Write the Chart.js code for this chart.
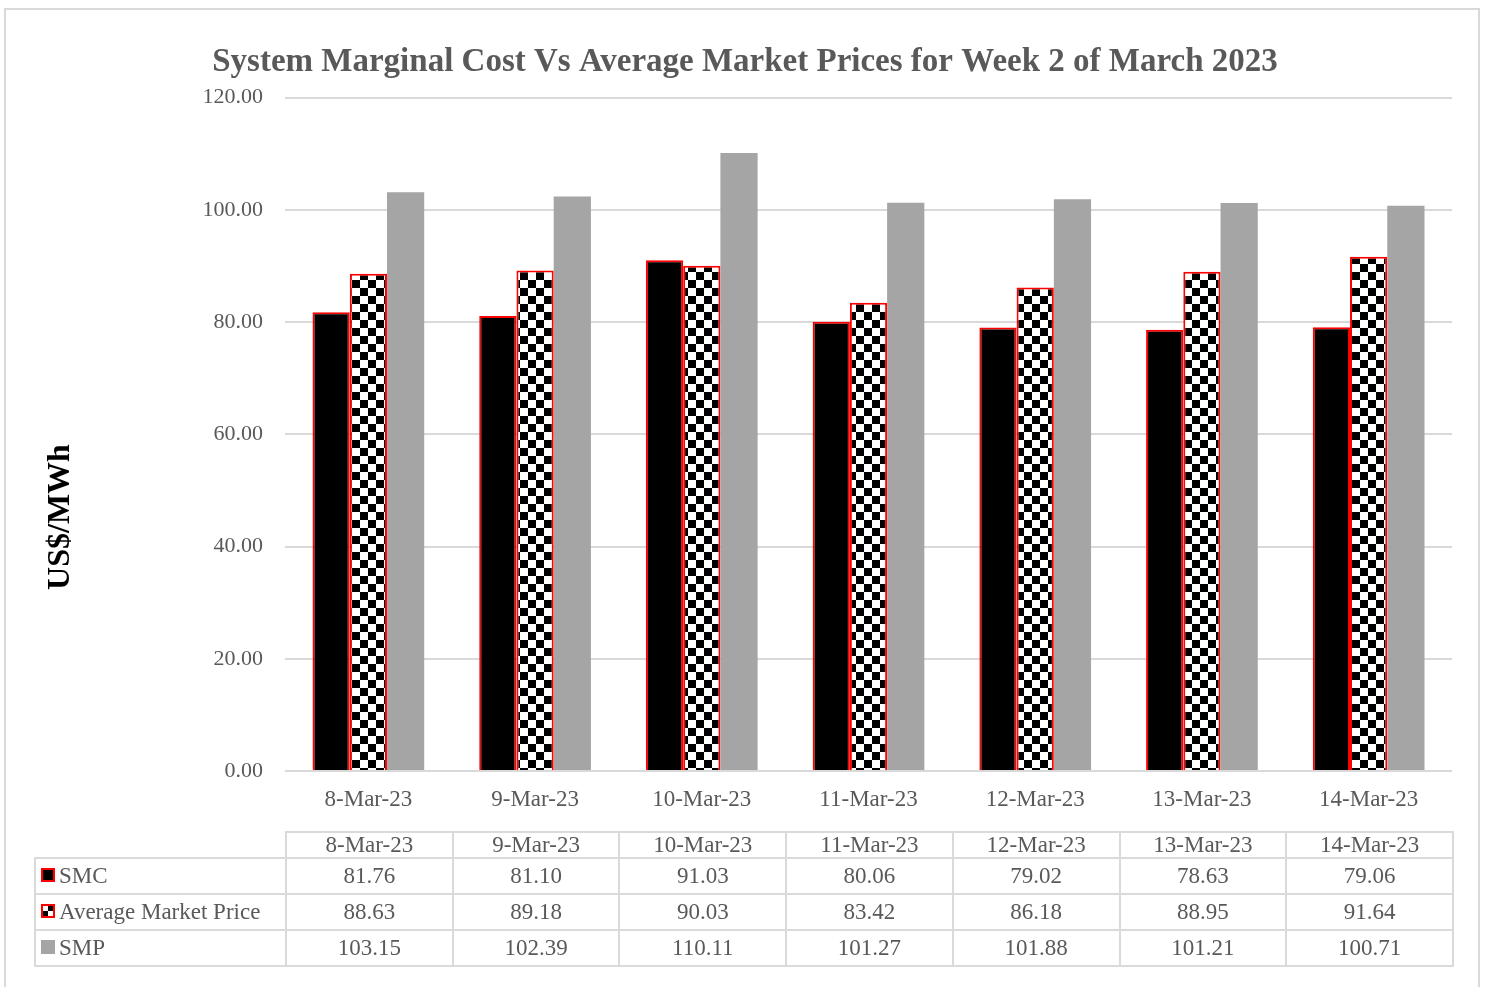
<!DOCTYPE html>
<html>
<head>
<meta charset="utf-8">
<script src="https://cdn.jsdelivr.net/npm/chart.js@4.4.0/dist/chart.umd.min.js"></script>
<style>
  html, body { margin: 0; padding: 0; background: #fff; }
  #wrap { position: relative; width: 1488px; height: 987px; overflow: hidden; }
  #frame { position: absolute; left: 4px; top: 8px; width: 1476px; height: 1000px; border: 2px solid #d9d9d9; box-sizing: border-box; }
  #chartBox { position: absolute; left: 0; top: 0; width: 1488px; height: 987px; }
  #tbl { position: absolute; border-collapse: collapse; font-family: "Liberation Serif", "Times New Roman", serif; font-size: 23px; color: #595959; }
  #tbl td { border: 2px solid #dadada; padding: 0; text-align: center; white-space: nowrap; }
  #tbl td.blank { border: none; }
  #tbl td.leg { text-align: left; padding-left: 5px; }
  .sw { display: inline-block; width: 14px; height: 14px; box-sizing: border-box; margin-right: 4px; vertical-align: 1px; }
</style>
</head>
<body>
<div id="wrap">
  <div id="frame"></div>
  <div id="chartBox"><canvas id="c"></canvas></div>
  <table id="tbl"></table>
</div>
<script>
const categories = ["8-Mar-23", "9-Mar-23", "10-Mar-23", "11-Mar-23", "12-Mar-23", "13-Mar-23", "14-Mar-23"];
const smc = [81.76, 81.10, 91.03, 80.06, 79.02, 78.63, 79.06];
const avgMarketPrice = [88.63, 89.18, 90.03, 83.42, 86.18, 88.95, 91.64];
const smp = [103.15, 102.39, 110.11, 101.27, 101.88, 101.21, 100.71];
const seriesNames = ["SMC", "Average Market Price", "SMP"];
const yTicks = [0, 20, 40, 60, 80, 100, 120];
const yAxisTitle = 'US$/MWh';

const SERIF = '"Liberation Serif", "Times New Roman", serif';

function checker() {
  const cv = document.createElement('canvas');
  cv.width = 16; cv.height = 16;
  const g = cv.getContext('2d');
  g.fillStyle = '#fff'; g.fillRect(0, 0, 16, 16);
  g.fillStyle = '#000';
  g.fillRect(8, 0, 8, 8);
  g.fillRect(0, 8, 8, 8);
  return g.createPattern(cv, 'repeat');
}
const ctx = document.getElementById('c').getContext('2d');
const pattern = checker();

const yTitlePlugin = {
  id: 'yTitle',
  afterDraw(ch) {
    const c = ch.ctx;
    c.save();
    c.translate(61, 517);
    c.rotate(-Math.PI / 2);
    c.font = 'bold 32px ' + SERIF;
    c.fillStyle = '#000';
    c.textAlign = 'center';
    c.textBaseline = 'middle';
    c.fillText(yAxisTitle, 0, 0);
    c.restore();
  }
};

const chart = new Chart(ctx, {
  type: 'bar',
  data: {
    labels: categories,
    datasets: [
      { label: seriesNames[0], data: smc, backgroundColor: '#000000', borderColor: '#ff0000', borderWidth: 2 },
      { label: seriesNames[1], data: avgMarketPrice, backgroundColor: pattern, borderColor: '#ff0000', borderWidth: 2 },
      { label: seriesNames[2], data: smp, backgroundColor: '#a5a5a5', borderWidth: 0 }
    ]
  },
  plugins: [yTitlePlugin],
  options: {
    responsive: true,
    maintainAspectRatio: false,
    animation: false,
    events: [],
    datasets: { bar: { categoryPercentage: 0.67, barPercentage: 1.0 } },
    layout: { padding: { left: 38, right: 36, top: 0, bottom: 0 } },
    plugins: {
      legend: { display: false },
      tooltip: { enabled: false },
      title: {
        display: true,
        text: 'System Marginal Cost Vs Average Market Prices for Week 2 of March 2023',
        color: '#595959',
        font: { family: SERIF, size: 33, weight: 'bold' },
        padding: { top: 43, bottom: 15 }
      }
    },
    scales: {
      x: {
        grid: { display: false },
        border: { display: false },
        ticks: { color: '#595959', font: { family: SERIF, size: 23 }, padding: 7 },
        afterFit: (s) => { s.height = 216; }
      },
      y: {
        min: 0, max: 120,
        afterBuildTicks: (s) => { s.ticks = yTicks.map(v => ({ value: v })); },
        grid: { color: '#d9d9d9', lineWidth: 2, drawTicks: false },
        border: { display: false },
        ticks: { color: '#595959', font: { family: SERIF, size: 22 }, padding: 22, callback: (v) => Number(v).toFixed(2) },
        title: { display: false },
        afterFit: (s) => { s.width = 285 - 38; }
      }
    }
  }
});

function buildTable() {
  const area = chart.chartArea;
  const colW = (area.right - area.left) / categories.length;
  const tbl = document.getElementById('tbl');
  const legendLeft = 34;
  tbl.style.left = legendLeft + 'px';
  tbl.style.top = '831px';
  let html = '<colgroup><col style="width:' + (area.left - legendLeft) + 'px">';
  categories.forEach(() => { html += '<col style="width:' + colW + 'px">'; });
  html += '</colgroup>';
  html += '<tr style="height:26px"><td class="blank"></td>';
  categories.forEach(c => { html += '<td style="line-height:22px">' + c + '</td>'; });
  html += '</tr>';
  const swatches = [
    '<span class="sw" style="background:#000;border:2px solid #f00"></span>',
    '<span class="sw" style="border:2px solid #f00;background:conic-gradient(#000 0 25%, #fff 0 50%, #000 0 75%, #fff 0)"></span>',
    '<span class="sw" style="background:#a5a5a5"></span>'
  ];
  const rows = [smc, avgMarketPrice, smp];
  rows.forEach((r, i) => {
    html += '<tr style="height:36px"><td class="leg">' + swatches[i] + seriesNames[i] + '</td>';
    r.forEach(v => { html += '<td>' + v.toFixed(2) + '</td>'; });
    html += '</tr>';
  });
  tbl.innerHTML = html;
  tbl.style.width = (area.right - legendLeft) + 'px';
  tbl.style.tableLayout = 'fixed';
}
buildTable();
</script>
</body>
</html>
